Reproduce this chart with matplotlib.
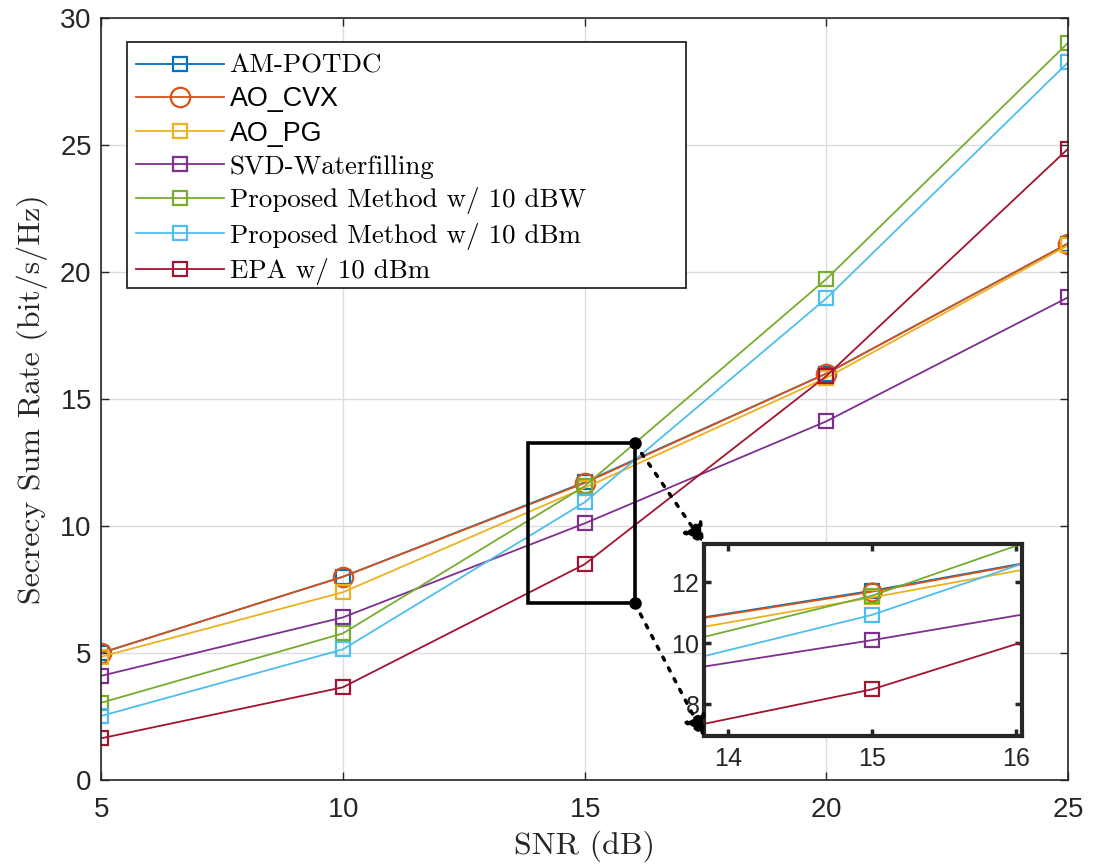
import matplotlib
matplotlib.use("Agg")
import matplotlib.pyplot as plt
from matplotlib.patches import Rectangle, FancyArrowPatch

snr = [5, 10, 15, 20, 25]
am_potdc = [5.0, 8.0, 11.72, 16.0, 21.12]
ao_cvx = [5.0, 8.0, 11.69, 16.0, 21.12]
ao_pg = [4.85, 7.39, 11.5, 15.83, 21.05]
svd_wf = [4.1, 6.4, 10.1, 14.12, 19.0]
prop_dbw = [3.04, 5.77, 11.56, 19.72, 29.02]
prop_dbm = [2.52, 5.14, 10.93, 18.96, 28.25]
epa_dbm = [1.64, 3.65, 8.49, 15.9, 24.85]

labels = ["AM-POTDC", "AO_CVX", "AO_PG", "SVD-Waterfilling",
          "Proposed Method w/ 10 dBW", "Proposed Method w/ 10 dBm", "EPA w/ 10 dBm"]
colors = ["#0072BD", "#D95319", "#EDB120", "#7E2F8E", "#77AC30", "#4DBEEE", "#A2142F"]
markers = ["s", "o", "s", "s", "s", "s", "s"]
series = [am_potdc, ao_cvx, ao_pg, svd_wf, prop_dbw, prop_dbm, epa_dbm]

xlim = (5, 25)
ylim = (0, 30)
zoom_x = (13.83, 16.04)
zoom_y = (6.96, 13.25)

sans = ["Liberation Sans", "DejaVu Sans"]
serif = ["cmr10", "DejaVu Serif"]
plt.rcParams["axes.formatter.use_mathtext"] = True
axc = "#262626"

W, H = 1094, 868
fig = plt.figure(figsize=(W / 100, H / 100), dpi=100)
ax = fig.add_axes([101 / W, 1 - 780 / H, 967 / W, 762 / H])


def draw(a, ms_sq, ms_o):
    for y, c, m in zip(series, colors, markers):
        a.plot(snr, y, color=c, marker=m, markersize=ms_o if m == "o" else ms_sq,
               markerfacecolor="none", markeredgecolor=c, markeredgewidth=1.6,
               linewidth=1.3)


def style(a, fs):
    for s in a.spines.values():
        s.set_color(axc)
    a.tick_params(direction="in", top=True, right=True, colors=axc, labelsize=fs,
                  length=6, width=1.0)
    for t in a.get_xticklabels() + a.get_yticklabels():
        t.set_fontfamily(sans)


draw(ax, 10, 14)
ax.set_xlim(*xlim)
ax.set_ylim(*ylim)
ax.set_xticks([5, 10, 15, 20, 25])
ax.set_yticks([0, 5, 10, 15, 20, 25, 30])
ax.grid(True, color="#dcdcdc", linewidth=1.0)
ax.set_axisbelow(True)
style(ax, 20)
for s in ax.spines.values():
    s.set_linewidth(1.2)
ax.tick_params(axis="x", pad=12)
ax.tick_params(axis="y", pad=7)
ax.set_xlabel("SNR (dB)", fontfamily=serif, fontsize=23, labelpad=6, color=axc)
ax.set_ylabel("Secrecy Sum Rate (bit/s/Hz)", fontfamily=serif, fontsize=23,
              labelpad=8, color=axc)

# legend frame (MATLAB-like wide box)
frame = Rectangle((127 / W, 1 - 288 / H), (686 - 127) / W, (288 - 42) / H,
                  transform=fig.transFigure, facecolor="white", edgecolor=axc,
                  linewidth=1.3, zorder=4.5, clip_on=False)
ax.add_artist(frame)
leg = ax.legend(labels, loc="upper left", bbox_to_anchor=(124 / W, 1 - 42 / H),
                bbox_transform=fig.transFigure, frameon=False,
                fontsize=19.4, handlelength=3.25, labelspacing=0.31,
                borderpad=0.45, borderaxespad=0, handletextpad=0.22)
leg.set_zorder(5)
for t, lab in zip(leg.get_texts(), labels):
    t.set_fontfamily(sans if lab.startswith("AO_") else serif)

# zoom rectangle
rect = Rectangle((zoom_x[0], zoom_y[0]), zoom_x[1] - zoom_x[0], zoom_y[1] - zoom_y[0],
                 fill=False, edgecolor="black", linewidth=2.6, zorder=5)
ax.add_patch(rect)

# inset
axin = fig.add_axes([704 / W, 1 - 736 / H, (1022 - 704) / W, (736 - 544) / H])
draw(axin, 10.5, 13)
axin.set_xlim(*zoom_x)
axin.set_ylim(*zoom_y)
axin.set_xticks([14, 15, 16])
axin.set_yticks([8, 10, 12])
style(axin, 18)
for s in axin.spines.values():
    s.set_linewidth(3.0)
axin.tick_params(width=2.5, length=5)
axin.tick_params(axis="x", pad=8)
axin.tick_params(axis="y", pad=3)

# connector arrows
for ys, ye in [(zoom_y[1], 1.0), (zoom_y[0], 0.0)]:
    start = (zoom_x[1], ys)
    ax.plot(*start, "o", color="black", markersize=8, zorder=6, clip_on=False)
    pa = ax.transData.transform(start)
    pb = axin.transAxes.transform((0.0, ye))
    arr = FancyArrowPatch(posA=pa, posB=pb, transform=None,
                          arrowstyle="-|>,head_length=12,head_width=7",
                          linestyle=(0, (1, 2.5)), linewidth=2.5, color="black",
                          shrinkA=0, shrinkB=0, zorder=6)
    fig.patches.append(arr)

fig.savefig("out.png", dpi=100)
